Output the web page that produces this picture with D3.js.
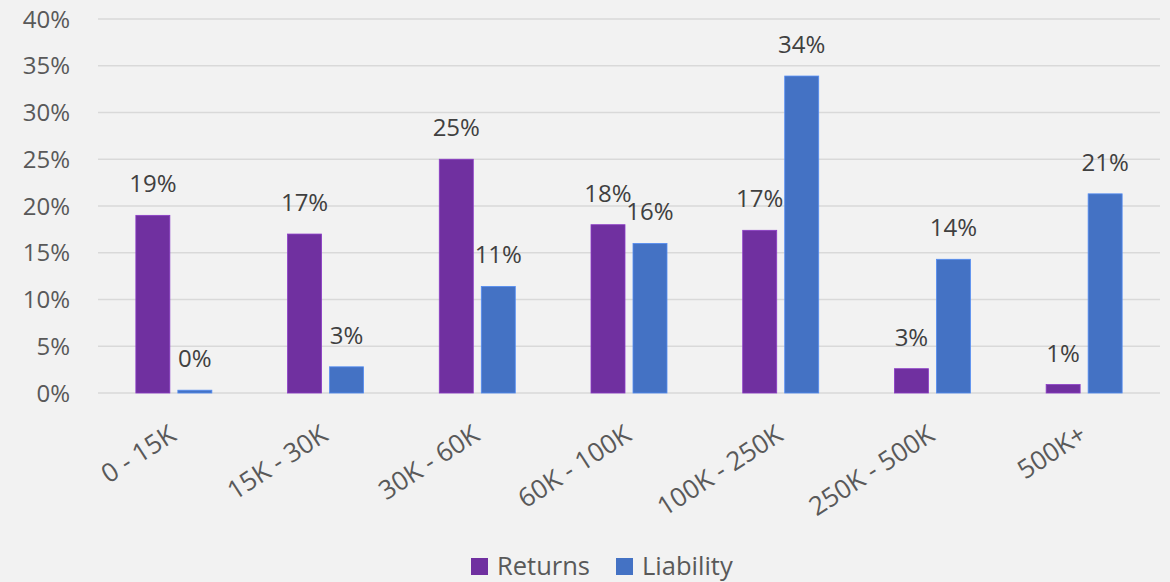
<!DOCTYPE html>
<html>
<head>
<meta charset="utf-8">
<script src="https://cdn.jsdelivr.net/npm/d3@7"></script>
<style>
  body { margin: 0; background: #f2f2f2; }
  svg { display: block; }
</style>
</head>
<body>
<div id="chart"></div>
<script>
const categories = ['0 - 15K', '15K - 30K', '30K - 60K', '60K - 100K', '100K - 250K', '250K - 500K', '500K+']
const seriesNames = ['Returns', 'Liability']
const returns = [19.0, 17.0, 25.0, 18.0, 17.4, 2.6, 0.9]
const liability = [0.3, 2.8, 11.4, 16.0, 33.9, 14.3, 21.3]
const yTicks = [0, 5, 10, 15, 20, 25, 30, 35, 40]
const colors = ['#7030a0', '#4472c4']

const width = 1170
const height = 582
const margin = {top: 19, right: 10, bottom: 189, left: 98}
const innerWidth = 1160 - margin.left
const innerHeight = 393 - margin.top

const font = '"Open Sans", "Noto Sans", sans-serif'

const svg = d3.select('#chart')
              .append('svg')
              .attr('width', width)
              .attr('height', height)
              .style('background', '#f2f2f2')

const g = svg.append('g')
             .attr('transform', 'translate(' + margin.left + ',' + margin.top + ')')

const x = d3.scaleBand().domain(categories).range([0, innerWidth])
const y = d3.scaleLinear().domain([0, 40]).range([innerHeight, 0])

// gridlines
g.append('g')
  .selectAll('line')
  .data(yTicks)
  .enter().append('line')
  .attr('x1', 0).attr('x2', innerWidth)
  .attr('y1', d => y(d)).attr('y2', d => y(d))
  .attr('stroke', '#d9d9d9')
  .attr('stroke-width', 1.5)

// y labels
g.append('g')
  .selectAll('text')
  .data(yTicks)
  .enter().append('text')
  .attr('x', -28)
  .attr('y', d => y(d))
  .attr('dy', '0.36em')
  .attr('text-anchor', 'end')
  .attr('font-family', font)
  .attr('font-size', 24)
  .attr('fill', '#595959')
  .text(d => d + '%')

const barW = 34
const gap = 8
const series = [returns, liability]

series.forEach((vals, si) => {
  const off = si === 0 ? -gap / 2 - barW : gap / 2
  const sg = g.append('g')
  sg.selectAll('rect')
    .data(vals)
    .enter().append('rect')
    .attr('x', (d, i) => x(categories[i]) + x.bandwidth() / 2 + off)
    .attr('y', d => y(d))
    .attr('width', barW)
    .attr('height', d => innerHeight - y(d))
    .attr('fill', colors[si])
    .attr('stroke', d3.color(colors[si]).brighter(0.6))
    .attr('stroke-width', 0.8)

  sg.selectAll('text')
    .data(vals)
    .enter().append('text')
    .attr('x', (d, i) => x(categories[i]) + x.bandwidth() / 2 + off + barW / 2)
    .attr('y', d => y(d) - 23)
    .attr('text-anchor', 'middle')
    .attr('font-family', font)
    .attr('font-size', 24)
    .attr('fill', '#404040')
    .text(d => Math.round(d) + '%')
})

// category labels, rotated
g.append('g')
  .selectAll('text')
  .data(categories)
  .enter().append('text')
  .attr('transform', d => 'translate(' + (x(d) + x.bandwidth() / 2 + 4) + ',' + (innerHeight + 46) + ') rotate(-33)')
  .attr('text-anchor', 'end')
  .attr('font-family', font)
  .attr('font-size', 26)
  .attr('fill', '#595959')
  .text(d => d)

// legend
const legend = svg.append('g')
const legendItems = [{x: 471, name: seriesNames[0], c: colors[0]}, {x: 616, name: seriesNames[1], c: colors[1]}]
legendItems.forEach(it => {
  legend.append('rect')
    .attr('x', it.x).attr('y', 558)
    .attr('width', 17).attr('height', 17)
    .attr('fill', it.c)
  legend.append('text')
    .attr('x', it.x + 26).attr('y', 575)
    .attr('font-family', font)
    .attr('font-size', 25.5)
    .attr('fill', '#595959')
    .text(it.name)
})
</script>
</body>
</html>
